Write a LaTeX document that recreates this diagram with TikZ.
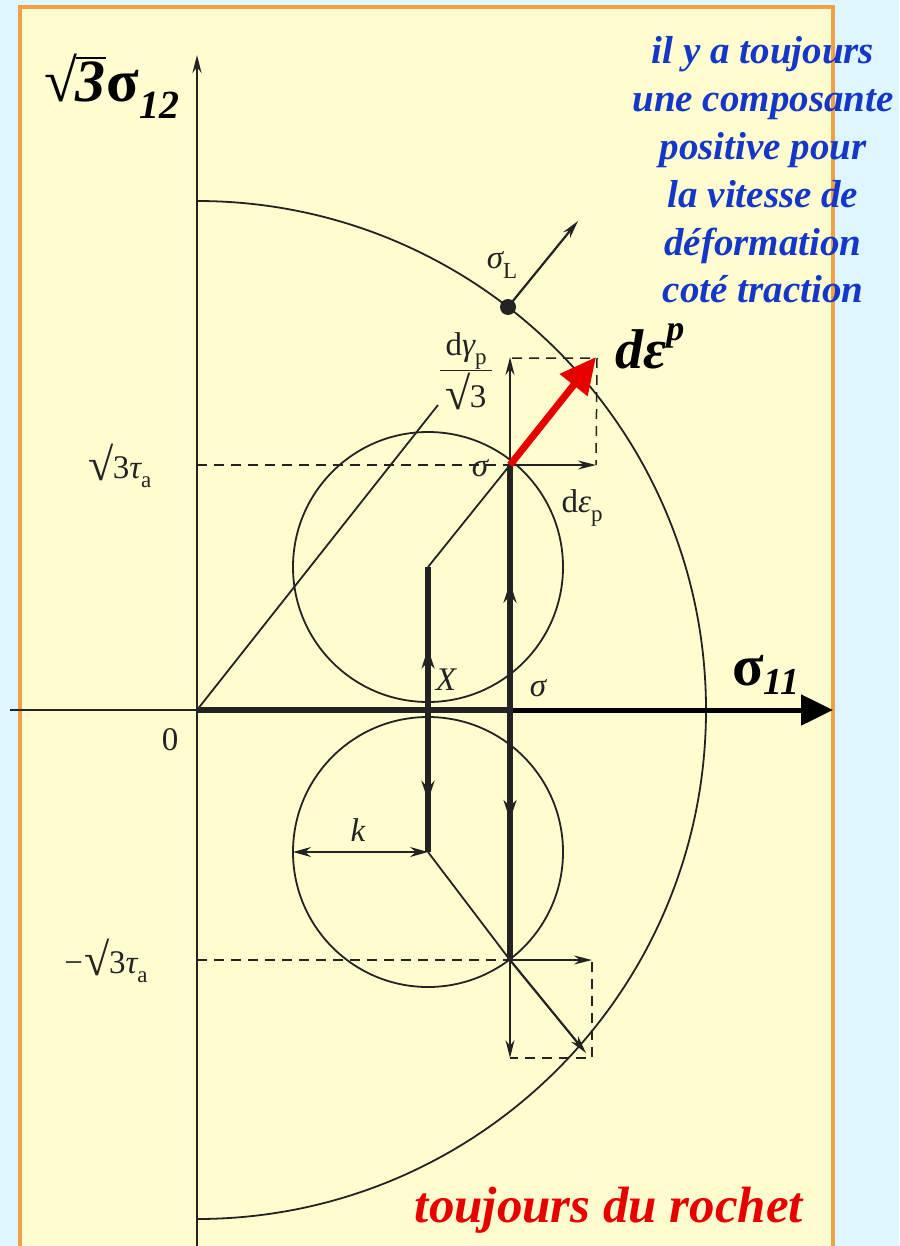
\documentclass[tikz,border=0pt]{standalone}
\usepackage{fontspec}
\setmainfont{Liberation Serif}
\usetikzlibrary{arrows.meta,decorations.markings}
\definecolor{bgcyan}{RGB}{221,246,255}
\definecolor{paper}{RGB}{255,253,208}
\definecolor{framecol}{RGB}{240,160,70}
\definecolor{txtblue}{RGB}{20,55,200}
\definecolor{txtred}{RGB}{230,0,0}
\definecolor{ink}{RGB}{35,35,35}
\newcommand{\lsub}[1]{\raisebox{-0.28em}{\fontsize{23}{26}\selectfont #1}}
\newcommand{\bigrad}{\raisebox{-2pt}{\fontsize{46}{46}\selectfont √}}
\tikzset{
  thinline/.style={draw=ink, line width=1.8pt},
  boldline/.style={draw=ink, line width=6pt},
  dashline/.style={draw=ink, line width=1.5pt, dash pattern=on 10pt off 7pt},
  sarrow/.style={-{Stealth[length=18pt,width=9pt]}},
  midarrow/.style={postaction={decorate}, decoration={markings,
      mark=at position #1 with {\arrow{Stealth[length=20pt,width=13pt]}}}},
  smalllabel/.style={font=\fontsize{33}{38}\selectfont, text=ink, inner sep=1pt},
}
\begin{document}
\begin{tikzpicture}[x=1pt,y=-1pt]
\useasboundingbox (0,0) rectangle (899,1246);
\clip (0,0) rectangle (899,1246);
\fill[bgcyan] (0,0) rectangle (899,1246);
\draw[framecol, line width=4pt, fill=paper] (20,7) rectangle (833,1270);

% coordinates
\coordinate (O) at (197,710);
\coordinate (Xe) at (10,710);
\coordinate (Ae) at (833,710);
\coordinate (Yb) at (197,1250);
\coordinate (Yt) at (197,55);
\coordinate (X0) at (428,710);
\coordinate (S0) at (510,710);
\coordinate (cU) at (428,567);
\coordinate (cD) at (428,852);
\coordinate (sU) at (510,465);
\coordinate (sD) at (510,960);
\coordinate (tauU) at (197,465);
\coordinate (tauD) at (197,960);
\coordinate (gU) at (510,357);
\coordinate (eU) at (596,465);
\coordinate (cornU) at (597,358);
\coordinate (gUc) at (512,358);
\coordinate (dep) at (596,357);
\coordinate (eD) at (592,960);
\coordinate (eDc) at (592,962);
\coordinate (gD) at (510,1058);
\coordinate (cornD) at (592,1058);
\coordinate (nD) at (586,1053);
\coordinate (kL) at (293,852);
\coordinate (sL) at (508,307);
\coordinate (nL) at (578,221);
\coordinate (diagE) at (438,405);

% yield surface (half circle)
\begin{scope}
\clip (197,0) rectangle (899,1246);
\draw[thinline] (O) circle[radius=509];
\end{scope}

% small circles
\draw[thinline] (cU) circle[radius=135];
\draw[thinline] (cD) circle[radius=135];

% axes
\draw[ink, line width=2pt] (Xe) -- (O);
\draw[ink, line width=2.4pt, sarrow] (Yb) -- (Yt);
\draw[black, line width=5pt, -{Triangle[length=32pt,width=30pt]}] (S0) -- (Ae);
\draw[boldline] (O) -- (S0);

% diagonal line
\draw[thinline] (O) -- (diagE);

% dashed levels
\draw[dashline] (tauU) -- (sU);
\draw[dashline] (tauD) -- (sD);

% bold paths with mid arrows
\draw[boldline, midarrow=0.43] (X0) -- (cU);
\draw[boldline, midarrow=0.64] (X0) -- (cD);
\draw[boldline, midarrow=0.52] (S0) -- (sU);
\draw[boldline, midarrow=0.44] (S0) -- (sD);

% radii
\draw[thinline] (cU) -- (sU);
\draw[thinline] (cD) -- (sD);

% upper flow rule construction
\draw[thinline, sarrow] (sU) -- (gU);
\draw[thinline, sarrow] (sU) -- (eU);
\draw[dashline] (gUc) -- (cornU) -- (eU);
\draw[txtred, line width=7pt, -{Triangle[length=36pt,width=34pt]}] (sU) -- (dep);

% lower construction
\draw[thinline, sarrow] (sD) -- (eD);
\draw[thinline, sarrow] (sD) -- (gD);
\draw[dashline] (eDc) -- (cornD) -- (gD);
\draw[thinline, line width=2.2pt, sarrow] (sD) -- (nD);

% k dimension
\draw[thinline, {Stealth[length=18pt,width=10pt]}-{Stealth[length=18pt,width=10pt]}] (kL) -- (cD);

% sigma_L point and normal
\draw[thinline, line width=2.2pt, sarrow] (sL) -- (nL);
\fill[ink] (sL) circle[radius=8];

% labels
\node[inner sep=0pt] (lab12) at (112,86) {\fontsize{60}{64}\selectfont
  √\kern-2pt\vbox{\hrule height 2pt\kern 3pt\hbox{\bfseries\itshape 3}}\kern1pt{\bfseries σ}\raisebox{-0.28em}{\fontsize{40}{42}\selectfont\bfseries\itshape 12}};
\node[inner sep=0pt] (lab11) at (766,675) {\fontsize{58}{62}\selectfont\bfseries
  σ\raisebox{-0.15em}{\fontsize{38}{40}\selectfont\itshape 11}};
\node[smalllabel] (lab0) at (170,740) {0};
\node[smalllabel] (labtU) at (120,466) {\bigrad\kern-1pt 3{\itshape τ}\lsub{a}};
\node[smalllabel] (labtD) at (106,961) {−\kern2pt\bigrad\kern-1pt 3{\itshape τ}\lsub{a}};
\node[smalllabel] (labsU) at (480,468) {\itshape σ};
\node[smalllabel] (labsA) at (538,688) {\itshape σ};
\node[smalllabel] (labX) at (446,680) {\itshape X};
\node[smalllabel] (labk) at (358,830) {\itshape k};
\node[smalllabel] (labL) at (502,265) {{\itshape σ}\lsub{L}};
\node[smalllabel] (labe) at (582,508) {d{\itshape ε}\lsub{p}};
\node[smalllabel, inner sep=0pt] (labg) at (466,374) {\setlength{\arrayrulewidth}{1.6pt}%
  \begin{tabular}{@{\,}c@{\,}}d{\itshape γ}\lsub{p}\\[2pt]\hline\rule{0pt}{36pt}\bigrad\kern-1pt 3\end{tabular}};
\node[inner sep=0pt] (labdep) at (650,346) {\fontsize{56}{60}\selectfont\bfseries\itshape
  dε\raisebox{0.5em}{\fontsize{36}{38}\selectfont p}};

\node[font=\fontsize{39}{47.8}\selectfont\bfseries\itshape, text=txtblue, align=center] (note) at (763,170)
  {il y a toujours\\une composante\\positive pour\\la vitesse de\\déformation\\coté traction};
\node[font=\fontsize{51}{56}\selectfont\bfseries\itshape, text=txtred] (roch) at (609,1210) {toujours du rochet};
\end{tikzpicture}
\end{document}
